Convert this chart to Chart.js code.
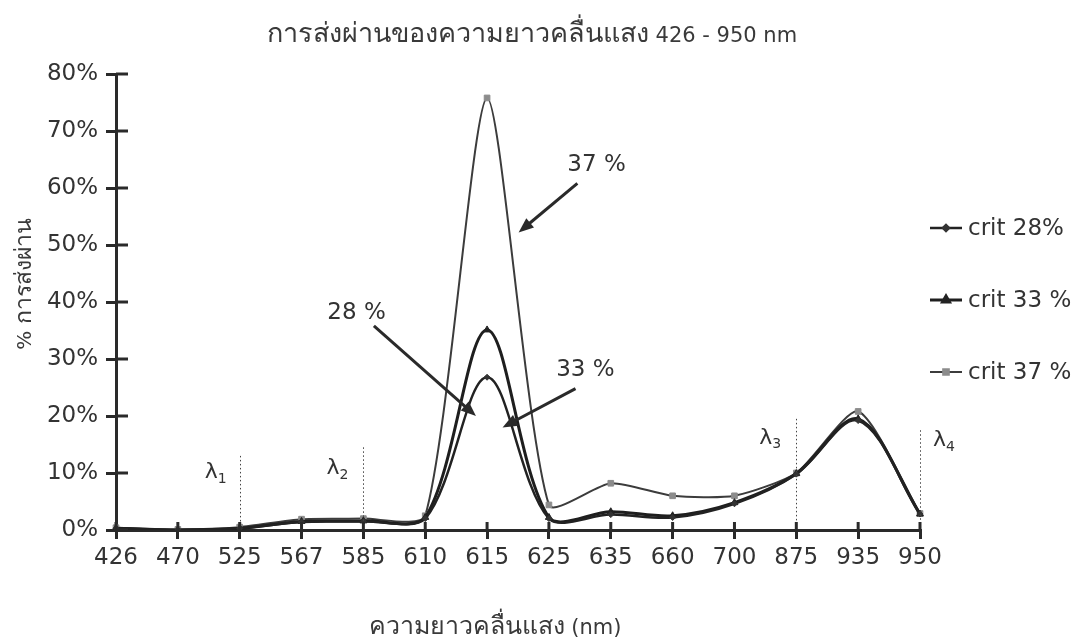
<!DOCTYPE html>
<html>
<head>
<meta charset="utf-8">
<title>การส่งผ่านของความยาวคลื่นแสง</title>
<script src="https://cdn.jsdelivr.net/npm/chart.js@4.4.1/dist/chart.umd.min.js"></script>
<style>
  html, body { margin: 0; padding: 0; background: #fff; }
  #wrap { width: 1084px; height: 640px; position: relative; }
</style>
</head>
<body>
<div id="wrap"><canvas id="transmission"></canvas></div>
<script>
// wavelength categories (nm) and transmission (%) for each criterion
var wavelengths = ['426', '470', '525', '567', '585', '610', '615', '625', '635', '660', '700', '875', '935', '950'];
var crit28 = [0.3, 0.0, 0.3, 1.4, 1.5, 2.0, 26.8, 2.0, 2.7, 2.2, 4.6, 9.8, 19.2, 2.8];
var crit33 = [0.3, 0.0, 0.3, 1.5, 1.6, 2.2, 35.1, 2.2, 3.2, 2.5, 4.8, 9.9, 19.5, 2.8];
var crit37 = [0.4, 0.1, 0.5, 1.9, 2.0, 2.5, 75.8, 4.4, 8.2, 6.0, 6.0, 10.0, 20.8, 2.9];
var seriesNames = ['crit 28%', 'crit 33 %', 'crit 37 %'];
var yTicks = [0, 10, 20, 30, 40, 50, 60, 70, 80];

var chartTitle = 'การส่งผ่านของความยาวคลื่นแสง 426 - 950 nm';
var xTitle = 'ความยาวคลื่นแสง (nm)';
var yTitle = '% การส่งผ่าน';

// dotted λ guides: category index, height (%) and label offset
var lambdaGuides = [
  { idx: 2, top: 13, sub: '1', tx: -28, ty: 16 },
  { idx: 4, top: 14.5, sub: '2', tx: -30, ty: 21 },
  { idx: 11, top: 19.5, sub: '3', tx: -30, ty: 19 },
  { idx: 13, top: 17.5, sub: '4', tx: 20, ty: 10 }
];

// callout arrows: text position and arrow from/to, in (category index, %)
var callouts = [
  { text: '37 %', at: [7.77, 64], from: [7.46, 60.8], to: [6.51, 52.2] },
  { text: '28 %', at: [3.89, 38], from: [4.17, 35.8], to: [5.82, 20.0] },
  { text: '33 %', at: [7.59, 28], from: [7.43, 24.8], to: [6.25, 18.0] }
];

var FONT = "'DejaVu Sans', 'Liberation Sans', sans-serif";
var THAI_FONT = "'Liberation Sans', Arial, 'Noto Sans', sans-serif";
var INK = '#2a2a2a';
var TEXT = '#333';

// Thai runs get a larger size than the Latin/digit runs
function splitRuns(text) {
  var out = [];
  for (var i = 0; i < text.length; i++) {
    var ch = text[i];
    var thai = /[\u0E00-\u0E7F]/.test(ch);
    if (out.length && out[out.length - 1].thai === thai) out[out.length - 1].s += ch;
    else out.push({ thai: thai, s: ch });
  }
  return out;
}

function drawMixed(ctx, text, cx, baseline, thaiSize, latinSize) {
  var runs = splitRuns(text);
  var total = 0;
  runs.forEach(function(r) {
    r.font = r.thai ? thaiSize + 'px ' + THAI_FONT : latinSize + 'px ' + FONT;
    ctx.font = r.font;
    r.w = ctx.measureText(r.s).width;
    total += r.w;
  });
  var x = cx - total / 2;
  ctx.textAlign = 'left';
  ctx.textBaseline = 'alphabetic';
  runs.forEach(function(r) {
    ctx.font = r.font;
    ctx.fillText(r.s, x, baseline);
    x += r.w;
  });
}

// chart title and axis titles
var titles = {
  id: 'titles',
  afterDraw: function(chart) {
    var ctx = chart.ctx;
    ctx.save();
    ctx.fillStyle = '#3a3a3a';
    drawMixed(ctx, chartTitle, 532, 42, 27, 21);
    drawMixed(ctx, xTitle, 495, 634, 25, 21);
    ctx.translate(31, 284);
    ctx.rotate(-Math.PI / 2);
    drawMixed(ctx, yTitle, 0, 0, 23, 20);
    ctx.restore();
  }
};

// tick marks that cross the axes (the library only draws the outer half)
var crossTicks = {
  id: 'crossTicks',
  afterDraw: function(chart) {
    var ctx = chart.ctx, xs = chart.scales.x, ys = chart.scales.y, area = chart.chartArea;
    ctx.save();
    ctx.strokeStyle = INK;
    ctx.lineWidth = 3;
    ys.ticks.forEach(function(t) {
      var py = ys.getPixelForValue(t.value);
      ctx.beginPath(); ctx.moveTo(area.left, py); ctx.lineTo(area.left + 12, py); ctx.stroke();
    });
    wavelengths.forEach(function(w, i) {
      var px = xs.getPixelForValue(i);
      ctx.beginPath(); ctx.moveTo(px, area.bottom); ctx.lineTo(px, area.bottom - 8); ctx.stroke();
    });
    ctx.restore();
  }
};

// λ guides and callout arrows
var notes = {
  id: 'notes',
  afterDatasetsDraw: function(chart) {
    var ctx = chart.ctx, xs = chart.scales.x, ys = chart.scales.y;
    ctx.save();
    ctx.strokeStyle = '#444';
    ctx.lineWidth = 1;
    ctx.setLineDash([1.5, 2.5]);
    lambdaGuides.forEach(function(g) {
      var px = Math.round(xs.getPixelForValue(g.idx)) + 0.5;
      ctx.beginPath();
      ctx.moveTo(px, ys.getPixelForValue(g.top));
      ctx.lineTo(px, ys.getPixelForValue(0));
      ctx.stroke();
    });
    ctx.setLineDash([]);
    ctx.fillStyle = TEXT;
    ctx.textBaseline = 'middle';
    ctx.textAlign = 'left';
    lambdaGuides.forEach(function(g) {
      var px = xs.getPixelForValue(g.idx) + g.tx;
      var py = ys.getPixelForValue(g.top) + g.ty;
      ctx.font = '22px ' + FONT;
      ctx.fillText('λ', px - 7, py);
      ctx.font = '14px ' + FONT;
      ctx.fillText(g.sub, px + 6, py + 7);
    });

    ctx.font = '23px ' + FONT;
    ctx.textAlign = 'center';
    callouts.forEach(function(c) {
      ctx.fillStyle = TEXT;
      ctx.fillText(c.text, xs.getPixelForValue(c.at[0]), ys.getPixelForValue(c.at[1]));
      var x1 = xs.getPixelForValue(c.from[0]), y1 = ys.getPixelForValue(c.from[1]);
      var x2 = xs.getPixelForValue(c.to[0]), y2 = ys.getPixelForValue(c.to[1]);
      var ang = Math.atan2(y2 - y1, x2 - x1), head = 15, half = 6;
      ctx.strokeStyle = INK;
      ctx.lineWidth = 3;
      ctx.beginPath();
      ctx.moveTo(x1, y1);
      ctx.lineTo(x2 - Math.cos(ang) * head * 0.8, y2 - Math.sin(ang) * head * 0.8);
      ctx.stroke();
      ctx.fillStyle = INK;
      ctx.beginPath();
      ctx.moveTo(x2, y2);
      ctx.lineTo(x2 - Math.cos(ang) * head - Math.sin(ang) * half, y2 - Math.sin(ang) * head + Math.cos(ang) * half);
      ctx.lineTo(x2 - Math.cos(ang) * head + Math.sin(ang) * half, y2 - Math.sin(ang) * head - Math.cos(ang) * half);
      ctx.closePath();
      ctx.fill();
    });
    ctx.restore();
  }
};

// legend on the right: line sample with the series marker, then the name
var sideLegend = {
  id: 'sideLegend',
  afterDraw: function(chart) {
    var ctx = chart.ctx, area = chart.chartArea;
    var mid = (area.top + area.bottom) / 2 - 2;
    var x0 = area.right + 10;
    ctx.save();
    chart.data.datasets.forEach(function(ds, i) {
      var y = mid + (i - 1) * 72;
      ctx.strokeStyle = ds.borderColor;
      ctx.lineWidth = ds.borderWidth;
      ctx.beginPath(); ctx.moveTo(x0, y); ctx.lineTo(x0 + 32, y); ctx.stroke();
      ctx.fillStyle = ds.pointBackgroundColor;
      ctx.strokeStyle = ds.pointBorderColor;
      Chart.helpers.drawPoint(ctx, {
        pointStyle: ds.pointStyle, radius: ds.pointRadius, rotation: 0, borderWidth: 1
      }, x0 + 16, y);
      ctx.fillStyle = TEXT;
      ctx.font = '23px ' + FONT;
      ctx.textAlign = 'left';
      ctx.textBaseline = 'middle';
      ctx.fillText(ds.label, x0 + 38, y + 1);
    });
    ctx.restore();
  }
};

function series(label, values, color, marker, markerFill, radius, width, tension) {
  return {
    label: label,
    data: values,
    borderColor: color,
    borderWidth: width,
    pointStyle: marker,
    pointRadius: radius,
    pointBackgroundColor: markerFill,
    pointBorderColor: markerFill,
    pointBorderWidth: 1,
    tension: tension,
    fill: false
  };
}

new Chart(document.getElementById('transmission'), {
  type: 'line',
  data: {
    labels: wavelengths,
    datasets: [
      series(seriesNames[0], crit28, '#222', 'rectRot', '#333', 3, 2.5, 0.33),
      series(seriesNames[1], crit33, '#1e1e1e', 'triangle', '#222', 4, 3, 0.32),
      series(seriesNames[2], crit37, '#3c3c3c', 'rect', '#8c8c8c', 4, 2, 0.22)
    ]
  },
  options: {
    responsive: true,
    maintainAspectRatio: false,
    animation: false,
    layout: { padding: { left: 0, right: 164, top: 74, bottom: 0 } },
    plugins: {
      legend: { display: false },
      tooltip: { enabled: false },
      title: { display: false }
    },
    scales: {
      x: {
        offset: false,
        afterFit: function(scale) { scale.height = 110; },
        border: { color: INK, width: 3 },
        grid: { drawOnChartArea: false, color: INK, lineWidth: 3, tickLength: 9 },
        ticks: { color: TEXT, font: { family: FONT, size: 23 }, padding: 5, maxRotation: 0, autoSkip: false }
      },
      y: {
        min: 0,
        max: 80,
        afterFit: function(scale) { scale.width = 116; },
        afterBuildTicks: function(scale) {
          scale.ticks = yTicks.map(function(v) { return { value: v }; });
        },
        border: { color: INK, width: 3 },
        grid: { drawOnChartArea: false, color: INK, lineWidth: 3, tickLength: 10 },
        ticks: {
          color: TEXT,
          font: { family: FONT, size: 23 },
          padding: 8,
          callback: function(v) { return v + '%'; }
        }
      }
    }
  },
  plugins: [crossTicks, notes, sideLegend, titles]
});
</script>
</body>
</html>
